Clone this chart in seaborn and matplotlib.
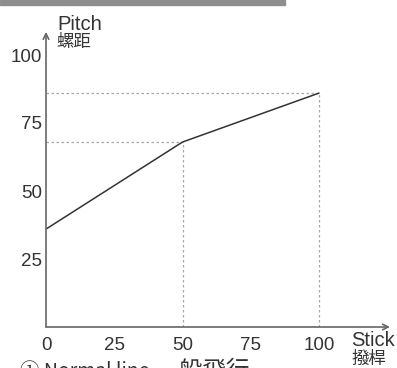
import matplotlib
matplotlib.use("Agg")
import matplotlib.pyplot as plt
import matplotlib.patches as mpatches
import pandas as pd
import seaborn as sns

# curve points
stick = [0, 50, 100]
pitch = [36, 68, 86]
x_ticks = [0, 25, 50, 75, 100]
y_ticks = [25, 50, 75, 100]

sns.set_style("white")
plt.rcParams['font.family'] = ['Liberation Sans', 'Noto Sans CJK JP', 'DejaVu Sans']

W, H = 397, 368
fig = plt.figure(figsize=(W / 100, H / 100), dpi=100)

# axes: x=0 at px 46, x=100 at px 319; y=0 at px 327, 2.72 px per unit
x0_px, y0_px = 46, 327
sx, sy = 2.73, 2.72
xmax, ymax = 126, 108.5
ax = fig.add_axes([x0_px / W, (H - y0_px) / H, xmax * sx / W, ymax * sy / H])
ax.set_xlim(0, xmax)
ax.set_ylim(0, ymax)

df = pd.DataFrame({'Stick': stick, 'Pitch': pitch})
sns.lineplot(data=df, x='Stick', y='Pitch', ax=ax, color='#333333', lw=1.1)

# dotted guide lines
gcol = '#a8a8a8'
for xv, yv in zip(stick[1:], pitch[1:]):
    ax.plot([0, xv], [yv, yv], ls=(0, (2, 2)), color=gcol, lw=0.9, zorder=1)
    ax.plot([xv, xv], [0, yv], ls=(0, (2, 2)), color=gcol, lw=0.9, zorder=1)

for s in ax.spines.values():
    s.set_visible(False)

axcol = '#666666'
ax.annotate('', xy=(xmax, 0), xytext=(0, 0),
            arrowprops=dict(arrowstyle='->', color=axcol, lw=1.2, shrinkA=0, shrinkB=0),
            annotation_clip=False)
ax.annotate('', xy=(0, ymax), xytext=(0, 0),
            arrowprops=dict(arrowstyle='->', color=axcol, lw=1.2, shrinkA=0, shrinkB=0),
            annotation_clip=False)

ax.set_xticks(x_ticks)
ax.set_yticks(y_ticks)
ax.tick_params(axis='both', direction='in', length=5, width=1.1, color=axcol,
               labelsize=13.5, labelcolor='#333333')
ax.tick_params(axis='x', pad=7)
ax.tick_params(axis='y', pad=3)
ax.set_xlabel('')
ax.set_ylabel('')

tcol = '#333333'
cjk = ['Noto Sans CJK JP', 'DejaVu Sans']
fig.text(57 / W, 1 - 30 / H, 'Pitch', fontsize=14.5, color=tcol, va='baseline', ha='left')
fig.text(56 / W, 1 - 47 / H, '螺距', fontsize=12.5, color=tcol, va='baseline', ha='left', family=cjk)
fig.text(351 / W, 1 - 346 / H, 'Stick', fontsize=14.5, color=tcol, va='baseline', ha='left')
fig.text(352 / W, 1 - 364 / H, '撥桿', fontsize=12.5, color=tcol, va='baseline', ha='left', family=cjk)

# caption, cut off at the bottom edge as in the original
fig.text(20 / W, 1 - 361 / H, '① Normal line', fontsize=14, color=tcol,
         va='top', ha='left', family=cjk)
fig.text(155 / W, 1 - 360 / H, '一般飛行', fontsize=17, color=tcol,
         va='top', ha='left', family=cjk)

# grey bar at the top
fig.patches.append(mpatches.Rectangle((0, 1 - 4.5 / H), 285 / W, 4.5 / H,
                                      transform=fig.transFigure, color='#8e8e8e'))

fig.savefig('out.png', dpi=100)
